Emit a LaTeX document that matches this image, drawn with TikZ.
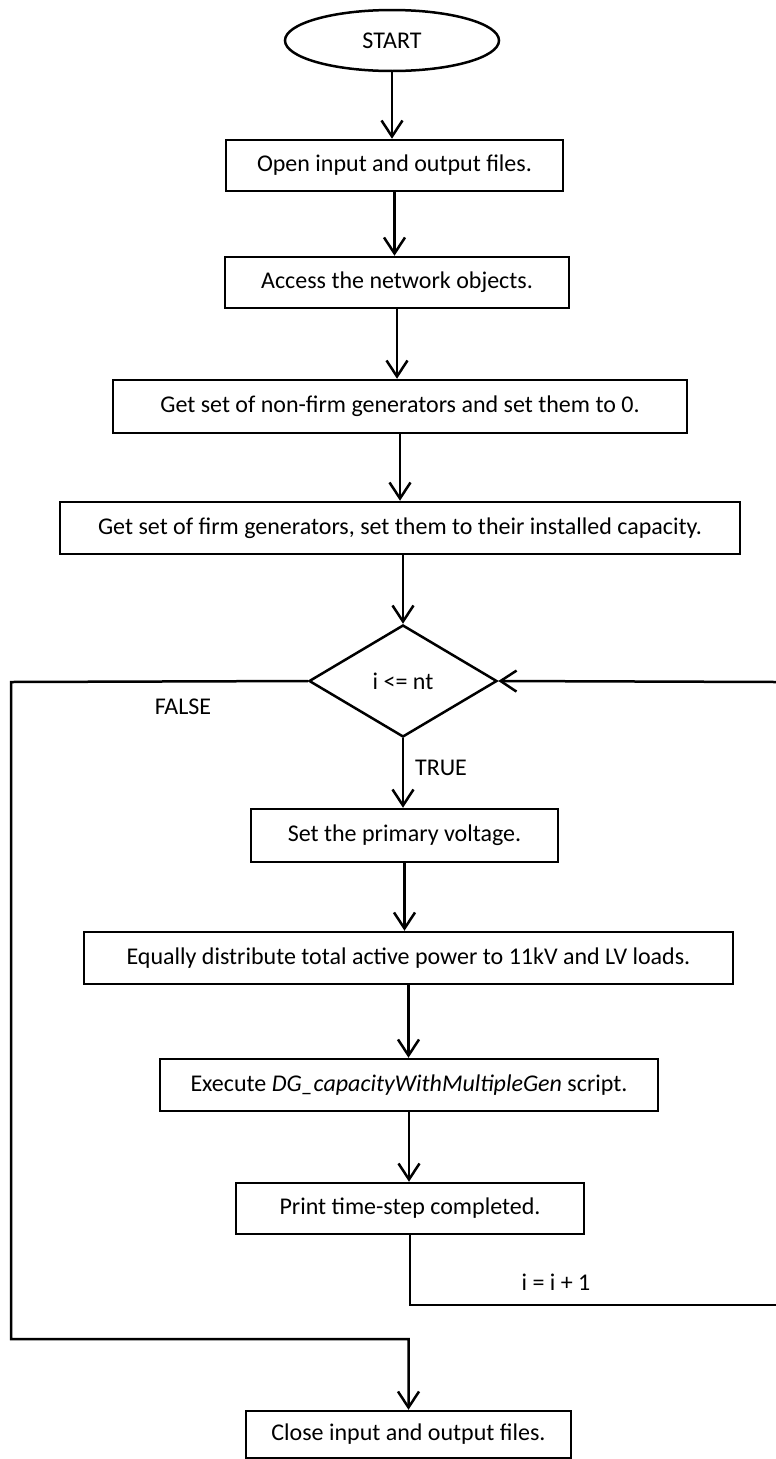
\documentclass[tikz,border=0pt]{standalone}
\usepackage{fontspec}
\setmainfont{Carlito}
\usetikzlibrary{shapes.geometric,arrows.meta}
\begin{document}
\begin{tikzpicture}[x=1pt,y=-1pt,
  font=\fontsize{24}{28}\selectfont,
  line width=2.5pt,
  box/.style={draw, rectangle, inner sep=0pt, line width=2.5pt},
  conn/.style={-{Straight Barb[length=16pt,width=21pt,line width=2.5pt]}},
  lbl/.style={inner sep=0pt}]
\useasboundingbox (0,0) rectangle (776,1459);

\node[draw, ellipse, inner sep=0pt, minimum width=214pt, minimum height=61pt] (start) at (392,40.5) {START};
\node[box, minimum width=337pt, minimum height=51pt] (open) at (394.5,165.5) {Open input and output files.};
\node[box, minimum width=344pt, minimum height=51pt] (access) at (397,282.5) {Access the network objects.};
\node[box, minimum width=574pt, minimum height=53pt] (nonfirm) at (400,406.5) {Get set of non-firm generators and set them to 0.};
\node[box, minimum width=680pt, minimum height=52pt] (firm) at (400,528) {Get set of firm generators, set them to their installed capacity.};
\node[draw, diamond, inner sep=0pt, aspect=1.68, minimum width=188pt, minimum height=112pt] (dec) at (403,681) {i <= nt};
\node[box, minimum width=307pt, minimum height=53pt] (volt) at (404.5,835.5) {Set the primary voltage.};
\node[box, minimum width=649pt, minimum height=52pt] (dist) at (408.5,958) {Equally distribute total active power to 11kV and LV loads.};
\node[box, minimum width=498pt, minimum height=52pt] (exec) at (409,1085) {Execute \textit{DG\_capacityWithMultipleGen} script.};
\node[box, minimum width=348pt, minimum height=51pt] (print) at (410,1208.5) {Print time-step completed.};
\node[box, minimum width=325pt, minimum height=47pt] (close) at (408.5,1434.5) {Close input and output files.};

\node[lbl] (false) at (183,707) {FALSE};
\node[lbl] (true) at (441,768) {TRUE};
\node[lbl] (inc) at (556,1282) {i = i + 1};

\coordinate (lt) at (11,682);
\coordinate (lb) at (11,1339);
\coordinate (rt) at (776,682);
\coordinate (rb) at (776,1305);

\draw[conn] (start.south) -- (start.south |- open.north);
\draw[conn] (open.south) -- (open.south |- access.north);
\draw[conn] (access.south) -- (access.south |- nonfirm.north);
\draw[conn] (nonfirm.south) -- (nonfirm.south |- firm.north);
\draw[conn] (firm.south -| dec.north) -- (dec.north);
\draw[conn] (dec.south) -- (dec.south |- volt.north);
\draw[conn] (volt.south) -- (volt.south |- dist.north);
\draw[conn] (dist.south) -- (dist.south |- exec.north);
\draw[conn] (exec.south) -- (exec.south |- print.north);
\draw (print.south) -- (print.south |- rb) -- (rb);
\draw[conn] (rt) -- (dec.east);
\draw[conn] (dec.west) -- (lt) -- (lb) -- (lb -| close.north) -- (close.north);
\end{tikzpicture}
\end{document}
